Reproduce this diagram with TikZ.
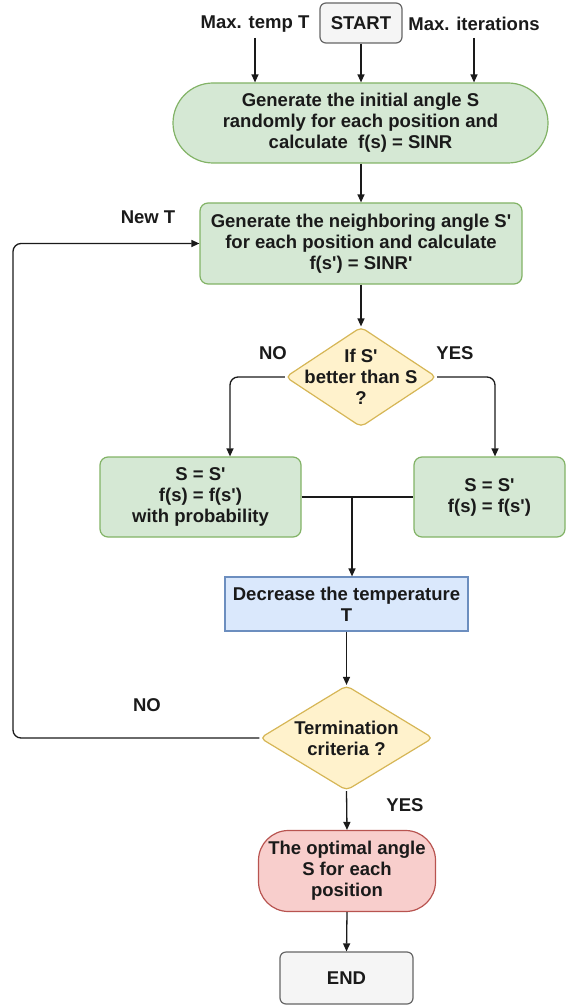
\documentclass[tikz,border=0pt]{standalone}
\usepackage{fontspec}
\newfontfamily\lab{Liberation Sans}
\usetikzlibrary{shapes.geometric,arrows.meta}

\definecolor{ink}{HTML}{1A1A1A}
\definecolor{greenfill}{HTML}{D5E8D4}
\definecolor{greenline}{HTML}{82B366}
\definecolor{yellowfill}{HTML}{FFF2CC}
\definecolor{yellowline}{HTML}{D6B656}
\definecolor{bluefill}{HTML}{DAE8FC}
\definecolor{blueline}{HTML}{6C8EBF}
\definecolor{redfill}{HTML}{F8CECC}
\definecolor{redline}{HTML}{B85450}
\definecolor{grayfill}{HTML}{F5F5F5}
\definecolor{grayline}{HTML}{666666}

\tikzset{
  every node/.style={font=\lab\bfseries\fontsize{18.5}{21}\selectfont, text=ink, align=center, inner sep=0pt},
  greenbox/.style={fill=greenfill, draw=greenline, line width=1.2pt},
  graybox/.style={fill=grayfill, draw=grayline, line width=1.2pt, rounded corners=6pt},
  decision/.style={diamond, fill=yellowfill, draw=yellowline, line width=1.2pt, rounded corners=5pt},
  flow/.style={draw=ink, line width=1.3pt},
  arr/.style={flow, -{Triangle[length=8pt,width=7pt]}},
}

\begin{document}
\begin{tikzpicture}[x=1pt,y=-1pt]
\useasboundingbox (0,0) rectangle (566,1008);

% inputs
\node[graybox, minimum width=82pt, minimum height=40pt] (start) at (361,23) {START};
\node (maxT) at (255,24) {Max. temp T};
\node (maxI) at (474,24) {Max. iterations};

% initial solution
\node[greenbox, rounded corners=40pt, minimum width=375pt, minimum height=80pt] (init) at (360.5,123)
  {Generate the initial angle S\\randomly for each position and\\calculate\ \ f(s) = SINR};

% neighbour solution
\node[greenbox, rounded corners=8pt, minimum width=322pt, minimum height=81pt] (nb) at (361,243.5)
  {Generate the neighboring angle S'\\for each position and calculate\\f(s') = SINR'};

% comparison
\node[decision, minimum width=151pt, minimum height=100pt] (d1) at (361,377) {};
\node (d1t) at (d1) {If S'\\better than S\\?};

% acceptance boxes
\node[greenbox, rounded corners=8pt, minimum width=201pt, minimum height=80pt] (lb) at (200.5,497)
  {S = S'\\f(s) = f(s')\\with probability};
\node[greenbox, rounded corners=8pt, minimum width=151pt, minimum height=80pt] (rb) at (489.5,497)
  {S = S'\\f(s) = f(s')};

% cooling
\node[fill=bluefill, draw=blueline, line width=1.2pt, minimum width=243pt, minimum height=54pt] (dec) at (346.5,604)
  {Decrease the temperature\\T};

% termination
\node[decision, minimum width=173pt, minimum height=105pt] (d2) at (346.5,738) {};
\node (d2t) at (d2) {Termination\\criteria ?};

% result
\node[fill=redfill, draw=redline, line width=1.2pt, rounded corners=30pt, minimum width=177pt, minimum height=81pt] (res) at (347,871)
  {The optimal angle\\S for each\\position};
\node[graybox, minimum width=133pt, minimum height=52pt] (end) at (346.5,978) {END};

% branch labels
\node (newT) at (148,217) {New T};
\node (no1) at (273,353) {NO};
\node (yes1) at (455,353) {YES};
\node (no2) at (147,705) {NO};
\node (yes2) at (405,805) {YES};

\coordinate (loopx) at (13,0);
\coordinate (merge) at (352,497);

% connectors
\draw[arr] (maxT.south |- 0,38) -- (maxT.south |- init.north);
\draw[arr] (maxI.south |- 0,38) -- (maxI.south |- init.north);
\draw[arr] (start.south) -- (start.south |- init.north);
\draw[arr] (start.south |- init.south) -- (start.south |- nb.north);
\draw[arr] (nb.south) -- (d1.north);
\draw[arr, rounded corners=8pt] (d1.west) -| (lb.north -| 230,0);
\draw[arr, rounded corners=8pt] (d1.east) -| (rb.north -| 495,0);
\draw[flow] (lb.east) -- (rb.west);
\draw[arr] (merge) -- (merge |- dec.north);
\draw[arr] (dec.south) -- (d2.north);
\draw[arr, rounded corners=8pt] (d2.west) -- (d2.west -| loopx) -- (nb.west -| loopx) -- (nb.west);
\draw[arr] (d2.south) -- (res.north);
\draw[arr] (res.south) -- (end.north);
\end{tikzpicture}
\end{document}
